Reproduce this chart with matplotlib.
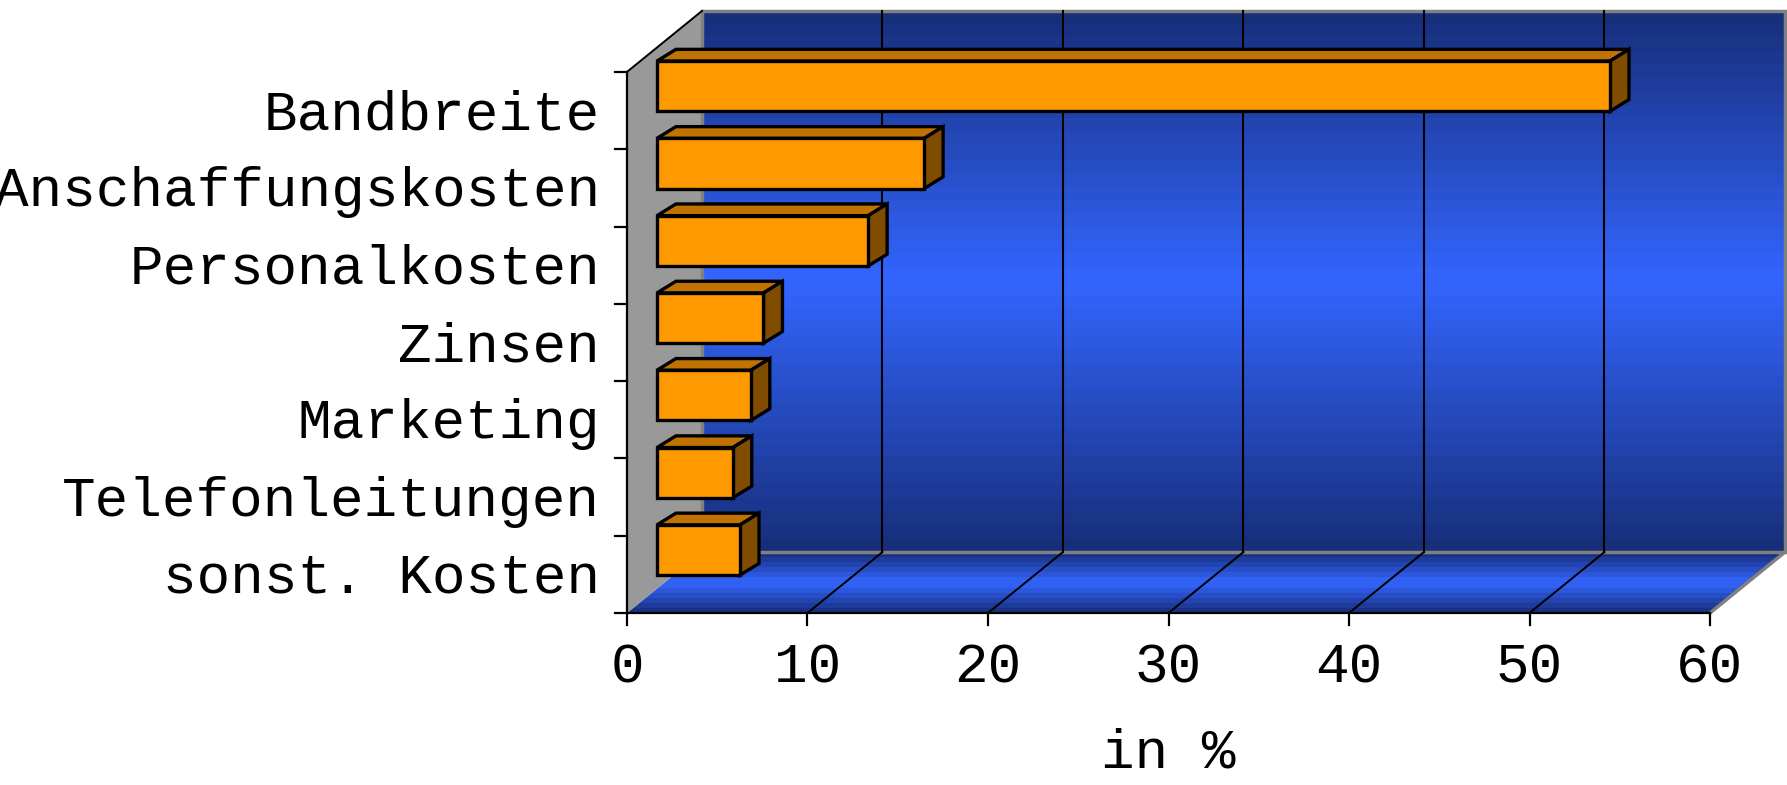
import numpy as np
import matplotlib.pyplot as plt
from matplotlib.patches import Polygon
from matplotlib.colors import to_rgb

# data (percent)
categories = ["Bandbreite", "Anschaffungskosten", "Personalkosten", "Zinsen",
              "Marketing", "Telefonleitungen", "sonst. Kosten"]
values = [52.8, 14.8, 11.7, 5.9, 5.2, 4.2, 4.6]
x_ticks = [0, 10, 20, 30, 40, 50, 60]
x_label = "in %"

# pseudo 3d geometry (data units)
XMAX = 60
NCAT = len(categories)
DX, DY = 4.155, 0.789        # depth of the chart box
BAR_F = 0.4                  # where the bars sit inside the box
BAR_H = 0.65
BDX, BDY = 1.05, 0.151       # depth of one bar

DARK = np.array(to_rgb("#172d78"))
BRIGHT = np.array(to_rgb("#3366ff"))
FONT = dict(family="Liberation Mono", size=40.3, color="black")


def gradient(ax, extent, clip, steps=40):
    s = (np.arange(steps) + 0.5) / steps
    t = np.abs(2 * s - 1)
    img = BRIGHT[None, :] * (1 - t[:, None]) + DARK[None, :] * t[:, None]
    im = ax.imshow(img[:, None, :], extent=extent, aspect="auto", origin="lower",
                   interpolation="nearest", zorder=1)
    im.set_clip_path(clip)


fig = plt.figure(figsize=(17.87, 7.85), dpi=100)
ax = fig.add_axes([0, 0, 1, 1])
ax.axis("off")

# back wall
wall = Polygon([(DX, DY), (XMAX + DX, DY), (XMAX + DX, NCAT + DY), (DX, NCAT + DY)],
               closed=True, facecolor="none", edgecolor="none")
ax.add_patch(wall)
gradient(ax, [DX, XMAX + DX, DY, NCAT + DY], wall)
ax.add_patch(Polygon(wall.get_xy(), closed=True, facecolor="none",
                     edgecolor="#808080", lw=2.5, zorder=2))

# floor
floor = Polygon([(0, 0), (XMAX, 0), (XMAX + DX, DY), (DX, DY)], closed=True,
                facecolor="none", edgecolor="none")
ax.add_patch(floor)
gradient(ax, [0, XMAX + DX, 0, DY], floor, steps=12)
ax.plot([XMAX, XMAX + DX], [0, DY], color="#808080", lw=2.5, zorder=2)

# side wall
ax.add_patch(Polygon([(0, 0), (0, NCAT), (DX, NCAT + DY), (DX, DY)], closed=True,
                     facecolor="#999999", edgecolor="none", zorder=1.5))
ax.plot([0, DX], [NCAT, NCAT + DY], color="black", lw=1.4, zorder=2)

# gridlines on wall and floor
for v in x_ticks[1:-1]:
    ax.plot([v + DX, v + DX], [DY, NCAT + DY], color="black", lw=1.5, zorder=2)
    ax.plot([v, v + DX], [0, DY], color="black", lw=1.4, zorder=2)

# axes lines and ticks
ax.plot([0, 0], [0, NCAT], color="black", lw=1.6, zorder=4)
ax.plot([0, XMAX], [0, 0], color="black", lw=1.6, zorder=4)
for k in range(NCAT + 1):
    ax.plot([-0.665, 0], [k, k], color="black", lw=1.6, zorder=4)
for v in x_ticks:
    ax.plot([v, v], [-0.155, 0], color="black", lw=1.6, zorder=4)
    ax.text(v, -0.893, str(v), ha="center", va="baseline", **FONT)
ax.text(XMAX / 2, -2.0, x_label, ha="center", va="baseline", **FONT)

# bars
for i, (cat, v) in enumerate(zip(categories, values)):
    yc = NCAT - i - 0.5
    ax.text(-1.5, yc - 0.24, cat, ha="right", va="baseline", **FONT)
    x0 = BAR_F * DX
    y0 = yc - BAR_H / 2 + BAR_F * DY
    y1 = y0 + BAR_H
    front = [(x0, y0), (x0 + v, y0), (x0 + v, y1), (x0, y1)]
    top = [(x0, y1), (x0 + v, y1), (x0 + v + BDX, y1 + BDY), (x0 + BDX, y1 + BDY)]
    side = [(x0 + v, y0), (x0 + v + BDX, y0 + BDY), (x0 + v + BDX, y1 + BDY), (x0 + v, y1)]
    for pts, col in [(top, "#c07300"), (side, "#804c00"), (front, "#ff9900")]:
        ax.add_patch(Polygon(pts, closed=True, facecolor=col, edgecolor="black",
                             lw=2.4, joinstyle="miter", zorder=5))

# pixel calibration: 18.05 px per percent, 77.3 px per category row
ax.set_xlim(-627 / 18.05, (1787 - 627) / 18.05)
ax.set_ylim(-172 / 77.3, (785 - 172) / 77.3)

fig.savefig("out.png", dpi=100)
